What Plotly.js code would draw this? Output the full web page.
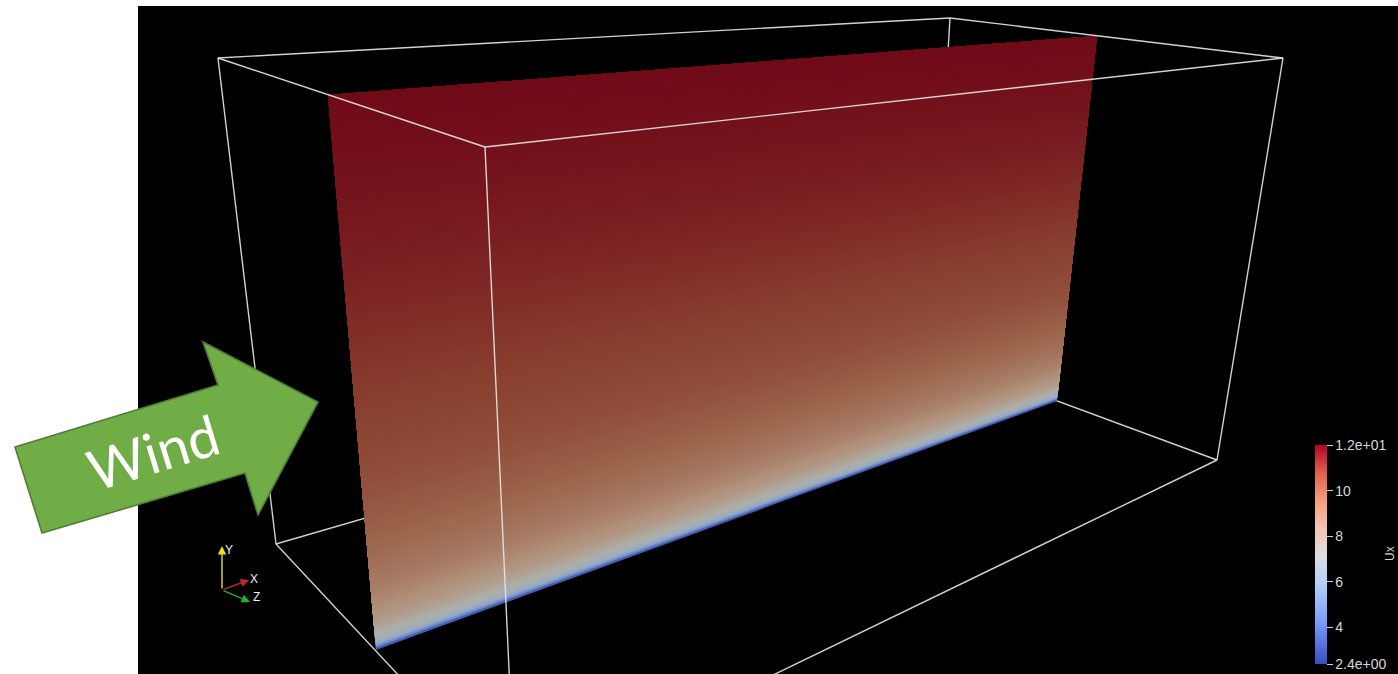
<!DOCTYPE html>
<html>
<head>
<meta charset="utf-8">
<script src="https://cdn.plot.ly/plotly-3.0.1.min.js"></script>
<style>html,body{margin:0;padding:0;background:#fff;}#chart{width:1398px;height:674px;}</style>
</head>
<body>
<div id="chart"></div>
<script>
// ---- data: streamwise velocity Ux profile across the slice (fraction of height from the ground) ----
const heightFrac = [0, 0.004, 0.008, 0.012, 0.02, 0.035, 0.06, 0.1, 0.15, 0.2, 0.3, 0.4, 0.5, 0.6, 0.7, 0.8, 0.9, 1.0];
const uxProfile  = [2.4, 3.6, 5.0, 6.0, 6.8, 7.5, 8.2, 8.8, 9.3, 9.7, 10.3, 10.7, 11.0, 11.3, 11.55, 11.75, 11.9, 12.0];
const uxRange = [2.4, 12.0];
const colorbarTickVals = [2.4, 4, 6, 8, 10, 12];
const colorbarTickText = ["2.4e+00", "4", "6", "8", "10", "1.2e+01"];
const scalarName = "Ux";
const annotationLabel = "Wind";
const triadLabels = ["X", "Y", "Z"];

// ---- geometry of the rendered view (screen pixels) ----
const corner = {
  A: [218, 58], B: [276, 544], G: [950, 18], H: [930, 354],
  C: [485, 147], D: [515, 800], E: [1283, 58], F: [1217, 460]
};
const plane = { tl: [328, 95], tr: [1097, 36], br: [1057, 401], bl: [376, 650] };
const backEdges = [["A","B"],["A","G"],["G","H"],["B","H"],["H","F"]];
const frontEdges = [["A","C"],["C","E"],["G","E"],["C","D"],["B","D"],["F","D"],["E","F"]];

// ParaView "Cool to Warm"
const coolWarm = [
  [0.0, [59,76,192]], [0.125, [98,130,234]], [0.25, [141,176,254]], [0.375, [184,208,249]],
  [0.5, [221,221,221]], [0.625, [245,196,173]], [0.75, [244,154,123]], [0.875, [222,96,77]], [1.0, [180,4,38]]
];
const plotlyScale = coolWarm.map(s => [s[0], 'rgb(' + s[1].join(',') + ')']);
const ambient = [7, 8, 2];

function interp(xs, ys, x) {
  if (x <= xs[0]) return ys[0];
  for (let i = 1; i < xs.length; i++) {
    if (x <= xs[i]) { const f = (x - xs[i-1]) / (xs[i] - xs[i-1]); return ys[i-1] + f * (ys[i] - ys[i-1]); }
  }
  return ys[ys.length - 1];
}
function colorAt(v, shade) {
  const f = Math.max(0, Math.min(1, (v - uxRange[0]) / (uxRange[1] - uxRange[0])));
  let i = 1; while (i < coolWarm.length - 1 && f > coolWarm[i][0]) i++;
  const a = coolWarm[i-1], b = coolWarm[i];
  const g = (f - a[0]) / (b[0] - a[0]);
  const c = a[1].map((ch, k) => Math.min(255, Math.round((ch + g * (b[1][k] - ch)) * shade + ambient[k])));
  return 'rgb(' + c.join(',') + ')';
}
function lerp(p, q, t) { return [p[0] + t * (q[0] - p[0]), p[1] + t * (q[1] - p[1])]; }
function shadeAt(t) { return 0.585 + 0.22 * Math.exp(-t / 0.1); }

function edgeTrace(edges) {
  const x = [], y = [];
  edges.forEach(e => { x.push(corner[e[0]][0], corner[e[1]][0], null); y.push(corner[e[0]][1], corner[e[1]][1], null); });
  return { type: 'scatter', mode: 'lines', x: x, y: y, line: { color: 'rgba(228,228,228,0.92)', width: 1.4 },
           hoverinfo: 'skip', showlegend: false };
}

const traces = [];
traces.push(edgeTrace(backEdges));

// slice coloured by Ux: nested polygons from each height up to the top
const N = 220;
for (let i = 0; i < N; i++) {
  const t0 = i / N, tm = (i + 0.5) / N;
  const v = interp(heightFrac, uxProfile, tm);
  const pBL = lerp(plane.bl, plane.tl, t0), pBR = lerp(plane.br, plane.tr, t0);
  traces.push({
    type: 'scatter', mode: 'lines', fill: 'toself',
    x: [pBL[0], pBR[0], plane.tr[0], plane.tl[0], pBL[0]],
    y: [pBL[1], pBR[1], plane.tr[1], plane.tl[1], pBL[1]],
    fillcolor: colorAt(v, shadeAt(tm)), line: { width: 0 }, hoverinfo: 'skip', showlegend: false
  });
}

traces.push(edgeTrace(frontEdges));

// invisible trace carrying the colour bar
const leftPts = heightFrac.map(h => lerp(plane.bl, plane.tl, h));
traces.push({
  type: 'scatter', mode: 'markers', x: leftPts.map(p => p[0]), y: leftPts.map(p => p[1]),
  hoverinfo: 'skip', showlegend: false,
  marker: {
    color: uxProfile, cmin: uxRange[0], cmax: uxRange[1], colorscale: plotlyScale, opacity: 0, size: 1,
    showscale: true,
    colorbar: {
      x: 1315 / 1398, xanchor: 'left', xpad: 0, ypad: 0,
      y: 1 - 554.5 / 674, yanchor: 'middle',
      len: 219, lenmode: 'pixels', thickness: 12, thicknessmode: 'pixels',
      outlinewidth: 0, bgcolor: 'rgba(0,0,0,0)',
      tickvals: colorbarTickVals, ticktext: colorbarTickText,
      ticks: 'outside', ticklen: 6, tickwidth: 1, tickcolor: '#d0d0d0',
      tickfont: { family: 'Liberation Sans, Arial, sans-serif', size: 14, color: '#d8d8d8' }
    }
  }
});

const triadOrigin = [222, 590];
const triadTips = { X: [249, 580], Y: [222, 546], Z: [250, 602] };
const triadColors = { X: '#c02828', Y: '#e8e020', Z: '#22b030' };
const triadLabelPos = { X: [254, 579], Y: [229, 550], Z: [256, 597] };

const annotations = [];
triadLabels.forEach(k => {
  annotations.push({ x: triadTips[k][0], y: triadTips[k][1], ax: triadOrigin[0], ay: triadOrigin[1],
    xref: 'x', yref: 'y', axref: 'x', ayref: 'y', text: '', showarrow: true,
    arrowhead: 2, arrowsize: 1.2, arrowwidth: 1.4, arrowcolor: triadColors[k] });
  annotations.push({ x: triadLabelPos[k][0], y: triadLabelPos[k][1], xref: 'x', yref: 'y', text: k, showarrow: false,
    font: { family: 'Liberation Sans, Arial, sans-serif', size: 12, color: '#f0f0f0' } });
});
annotations.push({ x: 1390, y: 554, xref: 'x', yref: 'y', text: scalarName, showarrow: false, textangle: -90,
  font: { family: 'Liberation Sans, Arial, sans-serif', size: 12, color: '#d8d8d8' } });
annotations.push({ x: 153, y: 451, xref: 'x', yref: 'y', text: annotationLabel, showarrow: false, textangle: -17,
  font: { family: 'Lato, Open Sans, sans-serif', size: 56, color: '#ffffff' } });

const layout = {
  width: 1398, height: 674, margin: { l: 0, r: 0, t: 0, b: 0 },
  paper_bgcolor: '#ffffff', plot_bgcolor: '#ffffff', showlegend: false,
  xaxis: { range: [0, 1398], visible: false, fixedrange: true },
  yaxis: { range: [674, 0], visible: false, fixedrange: true },
  shapes: [
    { type: 'rect', xref: 'x', yref: 'y', x0: 138, x1: 1398, y0: 6, y1: 674, fillcolor: '#000000', line: { width: 0 }, layer: 'below' },
    { type: 'path', xref: 'x', yref: 'y', layer: 'above',
      path: 'M15,447 L218,385 L203,342 L318,402 L258,515 L245,473 L42,533 Z',
      fillcolor: '#70AD47', line: { color: '#507E32', width: 1.6 } }
  ],
  annotations: annotations
};

Plotly.newPlot('chart', traces, layout, { staticPlot: true, displayModeBar: false });
</script>
</body>
</html>
